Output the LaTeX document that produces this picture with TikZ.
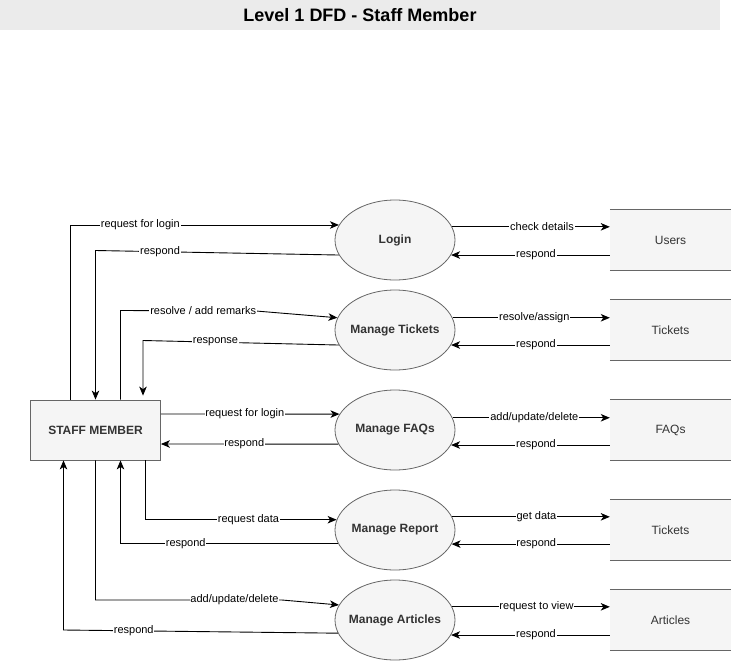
\documentclass[tikz,border=0pt]{standalone}
\usepackage{fontspec}
\setmainfont{Liberation Sans}
\usetikzlibrary{arrows.meta,shapes.geometric,calc}
\definecolor{fillg}{HTML}{F5F5F5}
\definecolor{lineg}{HTML}{666666}
\definecolor{txtg}{HTML}{333333}
\definecolor{titleg}{HTML}{EBEBEB}
\begin{document}
\begin{tikzpicture}[x=1pt,y=-1pt,
  proc/.style={ellipse,draw=lineg,line width=0.8pt,fill=fillg,minimum width=120pt,minimum height=80pt,inner sep=0pt,
    label={[font=\fontsize{12}{14}\selectfont\bfseries,text=txtg]center:#1}},
  store/.style={fill=fillg,minimum width=121pt,minimum height=60pt,inner sep=0pt,font=\fontsize{12}{14}\selectfont,text=txtg},
  ent/.style={draw=lineg,line width=0.8pt,fill=fillg,minimum width=130pt,minimum height=60pt,inner sep=0pt,font=\fontsize{12}{14}\selectfont\bfseries,text=txtg},
  storeline/.style={draw=lineg,line width=0.8pt},
  arr/.style={draw=black,line width=0.9pt,-{Stealth[length=9pt,width=7.5pt,inset=2.5pt]}},
  lab/.style={fill=white,inner sep=0.8pt,font=\fontsize{11}{13}\selectfont,text=black}]
\useasboundingbox (0,0) rectangle (731,661);
% title
\node[fill=titleg,minimum width=720pt,minimum height=30pt,inner sep=0pt,font=\fontsize{18}{20}\selectfont\bfseries] (title) at (360,15) {Level 1 DFD - Staff Member};
% processes
\node[proc=Login] (login) at (395,240) {};
\node[proc=Manage Tickets] (tick) at (395,330) {};
\node[proc=Manage FAQs] (faq) at (395,430) {};
\node[proc=Manage Report] (rep) at (395,530) {};
\node[proc=Manage Articles] (art) at (395,620) {};
% stores
\node[store] (users) at (670.5,240) {Users};
\node[store] (tstore) at (670.5,330) {Tickets};
\node[store] (fstore) at (670.5,430) {FAQs};
\node[store] (rstore) at (670.5,530) {Tickets};
\node[store] (astore) at (670.5,620) {Articles};
\foreach \s in {users,tstore,fstore,rstore,astore}{
  \draw[storeline] (\s.north west) -- (\s.north east) (\s.south west) -- (\s.south east);
}
% entity
\node[ent] (sm) at (95.5,430) {STAFF MEMBER};
% left connectors
\draw[arr] ([xshift=-25pt]sm.north) |- node[lab,pos=0.63]{request for login} (login.165);
\draw[arr] (login.195) -- node[lab,pos=0.735]{respond} (sm.north |- 0,250.5) -- (sm.north);
\draw[arr] ([xshift=25pt]sm.north) -- ([xshift=25pt]sm.north |- 0,310.5) -- node[lab,pos=0.61]{resolve / add remarks} (256,311) -- (tick.168);
\draw[arr] (tick.195) -- node[lab,pos=0.63]{response} ([xshift=47.5pt]sm.north |- 0,340.5) -- ([xshift=47.5pt,yshift=4pt]sm.north);
\draw[arr] ([yshift=16pt]sm.east) -- node[lab,pos=0.47]{request for login} (faq.164);
\draw[arr] (faq.194) -- node[lab,pos=0.53]{respond} ([yshift=-14pt]sm.east);
\draw[arr] ([xshift=49.5pt]sm.south) |- node[lab,pos=0.77]{request data} (rep.170);
\draw[arr] (rep.193) -| node[lab,pos=0.35]{respond} ([xshift=25pt]sm.south);
\draw[arr] (sm.south) -- (sm.south |- 0,600) -- node[lab,pos=0.745]{add/update/delete\ } (282,600) -- (art.165);
\draw[arr] (art.193) -- node[lab,pos=0.744]{respond} ([xshift=-32pt]sm.south |- 0,630) -- ([xshift=-32pt]sm.south);
% right connectors
\draw[arr] (login.13) -- node[lab,pos=0.57]{check details} (login.13 -| users.west);
\draw[arr] (login.345 -| users.west) -- node[lab,pos=0.465]{respond} (login.345);
\draw[arr] (tick.12) -- node[lab,pos=0.52]{resolve/assign} (tick.12 -| tstore.west);
\draw[arr] (tick.345 -| tstore.west) -- node[lab,pos=0.465]{respond} (tick.345);
\draw[arr] (faq.12) -- node[lab,pos=0.52]{add/update/delete} (faq.12 -| fstore.west);
\draw[arr] (faq.345 -| fstore.west) -- node[lab,pos=0.465]{respond} (faq.345);
\draw[arr] (rep.13) -- node[lab,pos=0.535]{get data} (rep.13 -| rstore.west);
\draw[arr] (rep.346 -| rstore.west) -- node[lab,pos=0.465]{respond} (rep.346);
\draw[arr] (art.13) -- node[lab,pos=0.535]{request to view} (art.13 -| astore.west);
\draw[arr] (art.345 -| astore.west) -- node[lab,pos=0.465]{respond} (art.345);
\end{tikzpicture}
\end{document}
